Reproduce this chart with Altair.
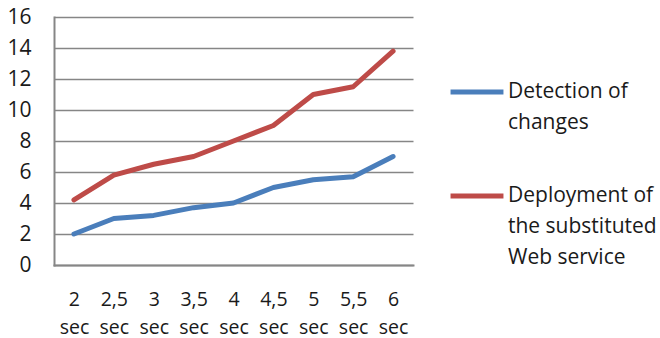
import altair as alt
import pandas as pd

# Time labels along the x axis
times = ["2 sec", "2,5 sec", "3 sec", "3,5 sec", "4 sec", "4,5 sec", "5 sec", "5,5 sec", "6 sec"]

# Series values
detection = [2, 3, 3.2, 3.7, 4, 5, 5.5, 5.7, 7]
deployment = [4.2, 5.8, 6.5, 7, 8, 9, 11, 11.5, 13.8]

series_names = ["Detection of changes", "Deployment of the substituted Web service"]
series_colors = ["#4A7EBB", "#BE4B48"]

rows = []
for name, vals in zip(series_names, [detection, deployment]):
    for t, v in zip(times, vals):
        rows.append({"time": t, "value": v, "series": name})
df = pd.DataFrame(rows)

FONT = "Open Sans"

legend_label = (
    "datum.label == 'Detection of changes' ? ['Detection of', 'changes'] : "
    "['Deployment of', 'the substituted', 'Web service']"
)

chart = alt.Chart(df).mark_line(strokeWidth=5, strokeCap="round", strokeJoin="round").encode(
    x=alt.X(
        "time:N",
        sort=times,
        scale=alt.Scale(type="point", padding=0.5),
        axis=alt.Axis(
            title=None,
            labelAngle=0,
            ticks=False,
            tickSize=0,
            grid=False,
            domainColor="#868686",
            domainWidth=2,
            labelFont=FONT,
            labelFontSize=19.5,
            labelColor="#1a1a1a",
            labelPadding=25,
            labelBaseline="top",
            labelLineHeight=28,
            labelExpr="split(datum.label, ' ')",
        ),
    ),
    y=alt.Y(
        "value:Q",
        scale=alt.Scale(domain=[0, 16], nice=False),
        axis=alt.Axis(
            title=None,
            values=list(range(0, 17, 2)),
            ticks=False,
            tickSize=0,
            grid=True,
            gridColor="#868686",
            gridWidth=1.5,
            domainColor="#868686",
            domainWidth=2,
            labelFont=FONT,
            labelFontSize=21,
            labelColor="#1a1a1a",
            labelPadding=23,
        ),
    ),
    color=alt.Color(
        "series:N",
        sort=series_names,
        scale=alt.Scale(domain=series_names, range=series_colors),
        legend=alt.Legend(
            title=None,
            orient="none",
            legendX=394,
            legendY=46,
            symbolType="stroke",
            symbolSize=2800,
            symbolStrokeWidth=5,
            labelFont=FONT,
            labelFontSize=21,
            labelColor="#1a1a1a",
            labelOffset=2,
            labelLimit=300,
            rowPadding=34,
            labelExpr=legend_label,
        ),
    ),
).properties(
    width=359,
    height=248,
    padding={"left": 54, "top": 17, "right": 247, "bottom": 73},
    autosize=alt.AutoSizeParams(type="none"),
).configure(
    style={"guide-label": {"lineHeight": 31}}
).configure_view(stroke=None).configure_axis(domainCap="square")

chart.save("out.html", embed_options={"renderer": "svg", "actions": False})
